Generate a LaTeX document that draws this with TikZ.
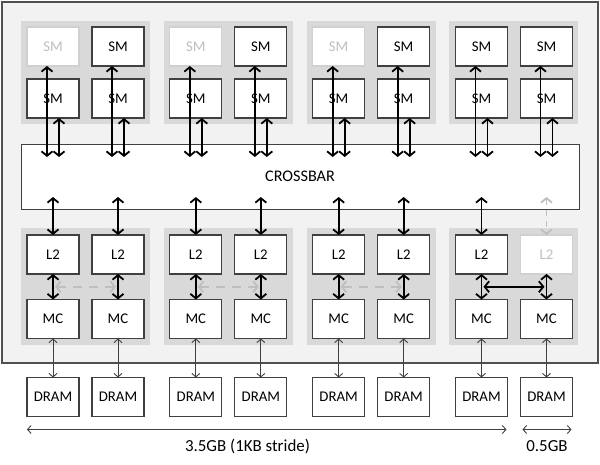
\documentclass[tikz,border=0pt]{standalone}
\usepackage{fontspec}
\setmainfont{Carlito}
\usetikzlibrary{arrows.meta,calc}
\definecolor{chipfill}{HTML}{F2F2F2}
\definecolor{grpfill}{HTML}{D9D9D9}
\definecolor{edge}{HTML}{404040}
\definecolor{chipedge}{HTML}{505050}
\definecolor{offedge}{HTML}{D0D0D0}
\definecolor{offtext}{HTML}{BFBFBF}
\begin{document}
\begin{tikzpicture}[x=1pt,y=-1pt,
 unit/.style={draw=edge,line width=1.3pt,fill=white,minimum width=52pt,minimum height=39pt,inner sep=0pt,outer sep=0pt,font=\fontsize{14.8}{17}\selectfont},
 unitoff/.style={unit,draw=offedge,text=offtext},
 bus/.style={line width=1.8pt,{Straight Barb[length=4.5pt,width=11pt]}-{Straight Barb[length=4.5pt,width=11pt]}},
 busoff/.style={bus,draw=offtext,dash pattern=on 6pt off 5pt},
 swap/.style={bus,draw=offtext,dash pattern=on 9pt off 7pt},
 link/.style={line width=0.9pt,draw=edge,{Straight Barb[length=3.5pt,width=8pt]}-{Straight Barb[length=3.5pt,width=8pt]}},
 caption/.style={inner sep=0pt,font=\fontsize{16.9}{19}\selectfont},
]
\useasboundingbox (0,0) rectangle (600,464);
% chip
\draw[draw=chipedge,fill=chipfill,line width=1.3pt] (2,2) rectangle (598,363);
% crossbar
\node[draw=edge,line width=1pt,fill=white,minimum width=558pt,minimum height=65pt,inner sep=0pt,outer sep=0pt,font=\fontsize{16.2}{19}\selectfont] (xbar) at (300,176.5) {CROSSBAR};
\foreach \g/\sa/\lb/\xb/\hz in {0/unitoff/unit/bus/swap,1/unitoff/unit/bus/swap,2/unitoff/unit/bus/swap,3/unit/unitoff/busoff/bus}{
  \pgfmathsetmacro{\ca}{53+142.83*\g}
  \pgfmathsetmacro{\cb}{\ca+65}
  \fill[grpfill] (\ca-32,21) rectangle (\cb+32,124);
  \fill[grpfill] (\ca-32,228) rectangle (\cb+32,345);
  \node[\sa] (sm\g-1-a) at (\ca,46.5) {SM};
  \node[unit] (sm\g-1-b) at (\cb,46.5) {SM};
  \node[unit] (sm\g-2-a) at (\ca,98.5) {SM};
  \node[unit] (sm\g-2-b) at (\cb,98.5) {SM};
  \node[unit] (l2\g-a) at (\ca,254.5) {L2};
  \node[\lb] (l2\g-b) at (\cb,254.5) {L2};
  \node[unit] (mc\g-a) at (\ca,319) {MC};
  \node[unit] (mc\g-b) at (\cb,319) {MC};
  \node[unit] (dr\g-a) at (\ca,397) {DRAM};
  \node[unit] (dr\g-b) at (\cb,397) {DRAM};
  % SM to crossbar
  \draw[bus] ($(sm\g-1-a.south)+(-6,0)$) -- ($(sm\g-1-a.south |- xbar.north)+(-6,13)$);
  \draw[bus] ($(sm\g-2-a.south)+(6,0)$) -- ($(sm\g-2-a.south |- xbar.north)+(6,13)$);
  \draw[bus] ($(sm\g-1-b.south)+(-6,0)$) -- ($(sm\g-1-b.south |- xbar.north)+(-6,13)$);
  \draw[bus] ($(sm\g-2-b.south)+(6,0)$) -- ($(sm\g-2-b.south |- xbar.north)+(6,13)$);
  % crossbar to L2
  \draw[bus] ($(l2\g-a.north |- xbar.south)+(0,-12)$) -- (l2\g-a.north);
  \draw[\xb] ($(l2\g-b.north |- xbar.south)+(0,-12)$) -- (l2\g-b.north);
  % L2 cross link
  \draw[\hz] ($(l2\g-a.south)!.5!(mc\g-a.north)+(2,0)$) -- ($(l2\g-b.south)!.5!(mc\g-b.north)+(-2,0)$);
  % L2 to MC
  \draw[bus] (l2\g-a.south) -- (mc\g-a.north);
  \draw[bus] (l2\g-b.south) -- (mc\g-b.north);
  % MC to DRAM
  \draw[link] (mc\g-a.south) -- (dr\g-a.north);
  \draw[link] (mc\g-b.south) -- (dr\g-b.north);
}
% capacity arrows
\draw[link] ($(dr0-a.south west)+(0,13)$) -- ($(dr3-a.south east)+(-1,13)$);
\draw[link] ($(dr3-b.south west)+(2,13)$) -- ($(dr3-b.south east)+(-1,13)$);
\node[caption] (cap1) at (247.5,446) {3.5GB (1KB stride)};
\node[caption] (cap2) at (547,446) {0.5GB};
\end{tikzpicture}
\end{document}
